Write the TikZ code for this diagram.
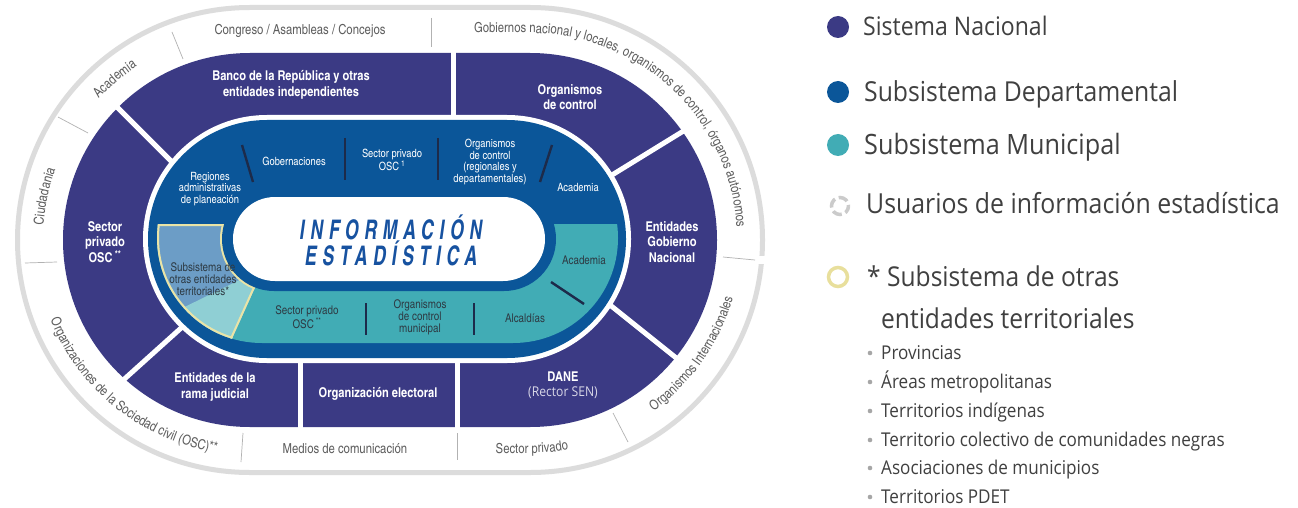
\documentclass[tikz,border=0pt]{standalone}
\usepackage{fontspec}
\setmainfont{Open Sans}[FakeStretch=0.9]
\newfontfamily\cnd{texgyreheroscn}[Extension=.otf,UprightFont=*-regular,BoldFont=*-bold,ItalicFont=*-italic,BoldItalicFont=*-bolditalic]
\newfontfamily\titfont{texgyreheroscn}[Extension=.otf,UprightFont=*-bolditalic,FakeStretch=0.8,LetterSpace=21]
\usetikzlibrary{decorations.text}
\definecolor{sen}{HTML}{3B3A84}
\definecolor{dep}{HTML}{0B5699}
\definecolor{mun}{HTML}{41ACB5}
\definecolor{otraA}{HTML}{6C9DC6}
\definecolor{otraB}{HTML}{8FCFD4}
\definecolor{amar}{HTML}{EAE4A6}
\definecolor{anillo}{HTML}{DCDCDC}
\definecolor{oscuro}{HTML}{1D2B4A}
\definecolor{tit}{HTML}{1752A0}
\definecolor{usr}{HTML}{5E5E5E}
\definecolor{txtmun}{HTML}{2E3B44}
\definecolor{ley}{HTML}{404040}
\definecolor{punto}{HTML}{A6A6A6}
\definecolor{amarley}{HTML}{E8DF9C}
\definecolor{anley}{HTML}{CBCBCB}
\newcommand\usrfont{\cnd\fontsize{13.8}{15}\selectfont}
\tikzstyle{nacional}=[text=white,align=center,font=\cnd\bfseries\fontsize{13.5}{15.5}\selectfont]
\tikzstyle{depto}=[text=white,align=center,font=\cnd\fontsize{11.4}{11.8}\selectfont]
\tikzstyle{munic}=[text=txtmun,align=center,font=\cnd\fontsize{12}{12}\selectfont]
\tikzstyle{usuario}=[text=usr,font=\usrfont]
\tikzstyle{titulo}=[text=tit,font=\titfont\fontsize{27}{30}\selectfont]
\tikzstyle{corte}=[draw=white,line width=5]
\tikzstyle{raya}=[draw=oscuro,line width=2.4]
\tikzstyle{fino}=[draw=gray!60,line width=0.7]
\tikzstyle{leyenda}=[anchor=base west,text=ley,inner sep=0pt]
\tikzstyle{elem}=[anchor=base west,text=ley,inner sep=0pt,font=\fontsize{19}{20}\selectfont]

\begin{document}
\begin{tikzpicture}[x=1pt,y=-1pt]
  \useasboundingbox[fill=white] (0,0) rectangle (1298,508);
  % usuarios ring
  \draw[anillo,line width=5,rounded corners=232.4pt] (17.5,7.5) rectangle (762.5,472.5);
  \fill[white] (755,256) rectangle (770,264);
  % sistema nacional
  \fill[sen,rounded corners=186.9pt] (63,53) rectangle (717,427);
  \draw[corte] (116,106) -- (185,175);
  \draw[corte] (453,50) -- (453,125);
  \draw[corte] (599,183) -- (690,127);
  \draw[corte] (190,320) -- (120,383);
  \draw[corte] (300,355) -- (300,432);
  \draw[corte] (457,355) -- (457,432);
  \draw[corte] (605,301) -- (680,361);
  % subsistemas
  \fill[white,rounded corners=123.9pt] (143,115) rectangle (631,363);
  \fill[dep,rounded corners=118.9pt] (148,120) rectangle (626,358);
  \begin{scope}
    \clip (140,224) rectangle (640,370);
    \fill[mun,rounded corners=104.9pt] (157,133) rectangle (618,343);
  \end{scope}
  \begin{scope}
    \clip (140,224) -- (283.6,224) -- (217.9,370) -- (140,370) -- cycle;
    \clip[rounded corners=104.9pt] (157,133) rectangle (618,343);
    \fill[otraA] (140,220) rectangle (300,370);
    \fill[otraB] (150,324) -- (270,265) -- (270,370) -- (150,370) -- cycle;
    \draw[amar,line width=4] (140,224) -- (283.6,224) -- (217.9,370);
    \draw[amar,line width=4,rounded corners=104.9pt] (157,133) rectangle (618,343);
    \draw[amar,line width=4,rounded corners=51.9pt] (222,187) rectangle (556,291);
  \end{scope}
  \fill[dep,rounded corners=51.9pt] (222,187) rectangle (556,291);
  \fill[white,rounded corners=41.9pt] (233,197) rectangle (545,281);
  \draw[raya] (242,145) -- (253,182);
  \draw[raya] (345,138) -- (345,180);
  \draw[raya] (438,138) -- (438,180);
  \draw[raya] (552,145) -- (540,182);
  \draw[raya] (366,303) -- (366,335);
  \draw[raya] (474,303) -- (474,335);
  \draw[raya] (551,282) -- (584,304);
  % title
  \node[titulo] (INF) at (391,227) {INFORMACIÓN};
  \node[titulo] (EST) at (391,253) {ESTADÍSTICA};
  % nacional labels
  \node[nacional] (BR) at (291,85) {Banco de la República y otras\\entidades independientes};
  \node[nacional] (OC) at (570,97) {Organismos\\de control};
  \node[nacional] (SP) at (105,242) {Sector\\privado\\OSC\,\textsuperscript{**}};
  \node[nacional] (EGN) at (672,242) {Entidades\\Gobierno\\Nacional};
  \node[nacional] (ERJ) at (215,387) {Entidades de la\\rama judicial};
  \node[nacional] (OE) at (378,394) {Organización electoral};
  \node[nacional] (DANE) at (563,385) {DANE\\{\normalfont\fontsize{13.5}{15}\selectfont\color{white!80!sen}(Rector SEN)}};
  % departamental labels
  \node[depto] (RAP) at (210,189) {Regiones\\administrativas\\de planeación};
  \node[depto] (GOB) at (294,161) {Gobernaciones};
  \node[depto] (SPD) at (392,160) {Sector privado\\OSC\,\textsuperscript{1}};
  \node[depto] (OCR) at (490,162) {Organismos\\de control\\(regionales y\\departamentales)};
  \node[depto] (ACD) at (578,187) {Academia};
  % municipal labels
  \node[munic] (SOE) at (203,279) {Subsistema de\\otras entidades\\territoriales*};
  \node[munic] (SPM) at (307,317) {Sector privado\\OSC\,\textsuperscript{**}};
  \node[munic] (OCM) at (420,317) {Organismos\\de control\\municipal};
  \node[munic] (ALC) at (525,318) {Alcaldías};
  \node[munic] (ACM) at (584,260) {Academia};
  % usuarios
  \draw[fino] (172,32) -- (183,59);
  \draw[fino] (431,18) -- (431,47);
  \draw[fino] (58,117) -- (88,133);
  \draw[fino] (25,263) -- (57,262);
  \draw[fino] (243,433) -- (241,462);
  \draw[fino] (457,433) -- (457,460);
  \draw[fino] (613,413) -- (628,442);
  \draw[fino] (723,257) -- (755,260);
  \node[usuario,anchor=base] (CAC) at (300,35) {Congreso / Asambleas / Concejos};
  \node[usuario,anchor=base] (MED) at (345,453) {Medios de comunicación};
  \path[decorate,decoration={text along path,text align=left,text color=usr,
    text={|\usrfont|Gobiernos nacional y locales, organismos de control, órganos autónomos}}]
    (474,33) -- (530,33) arc[start angle=270,end angle=375,radius=207];
  \path[decorate,decoration={text along path,text align=center,text color=usr,text={|\usrfont|Academia}}]
    ([shift={(250,240)}]200:207) arc[start angle=200,end angle=260,radius=207];
  \path[decorate,decoration={text along path,text align=center,text color=usr,text={|\usrfont|Ciudadania}}]
    ([shift={(250,240)}]160:207) arc[start angle=160,end angle=224,radius=207];
  \path[decorate,decoration={text along path,text align=center,text color=usr,
    text={|\usrfont|Organizaciones de la Sociedad civil (OSC)**}}]
    ([shift={(250,240)}]180:215) arc[start angle=180,end angle=77,radius=215];
  \path[decorate,decoration={text along path,text align=center,text color=usr,text={|\usrfont|Sector privado}}]
    (460,453) -- (530,453) arc[start angle=90,end angle=70,radius=213];
  \path[decorate,decoration={text along path,text align=center,text color=usr,text={|\usrfont|Organismos Internacionales}}]
    ([shift={(530,240)}]62:211) arc[start angle=62,end angle=8,radius=211];
  % legend
  \fill[sen] (838,27) circle[radius=11];
  \fill[dep] (838,92) circle[radius=11];
  \fill[mun] (838,145) circle[radius=11];
  \draw[anley,line width=3.5,dash pattern=on 9.5pt off 4pt,dash phase=2pt] (840,206) circle[radius=8.5];
  \draw[amarley,line width=3.5] (838,277) circle[radius=9.5];
  \node[leyenda,font=\fontsize{25.6}{28}\selectfont] (LSN) at (863,36) {Sistema Nacional};
  \node[leyenda,font=\fontsize{27.5}{30}\selectfont] (LSD) at (864,102) {Subsistema Departamental};
  \node[leyenda,font=\fontsize{28}{30}\selectfont] (LSM) at (864,154) {Subsistema Municipal};
  \node[leyenda,font=\fontsize{27.6}{30}\selectfont] (LUS) at (866,213) {Usuarios de información estadística};
  \node[leyenda,font=\fontsize{27.3}{30}\selectfont] (LOT) at (867,286) {* Subsistema de otras};
  \node[leyenda,font=\fontsize{27.3}{30}\selectfont] (LET) at (881,328) {entidades territoriales};
  \fill[punto] (870,353) circle[radius=2.3];
  \fill[punto] (870,382) circle[radius=2.3];
  \fill[punto] (870,411) circle[radius=2.3];
  \fill[punto] (870,440) circle[radius=2.3];
  \fill[punto] (870,468) circle[radius=2.3];
  \fill[punto] (870,497) circle[radius=2.3];
  \node[elem] (PRV) at (881,359) {Provincias};
  \node[elem] (AMT) at (881,388) {Áreas metropolitanas};
  \node[elem] (TIN) at (881,417) {Territorios indígenas};
  \node[elem] (TCN) at (881,446) {Territorio colectivo de comunidades negras};
  \node[elem] (ASM) at (881,474) {Asociaciones de municipios};
  \node[elem] (PDT) at (881,503) {Territorios PDET};
\end{tikzpicture}
\end{document}
